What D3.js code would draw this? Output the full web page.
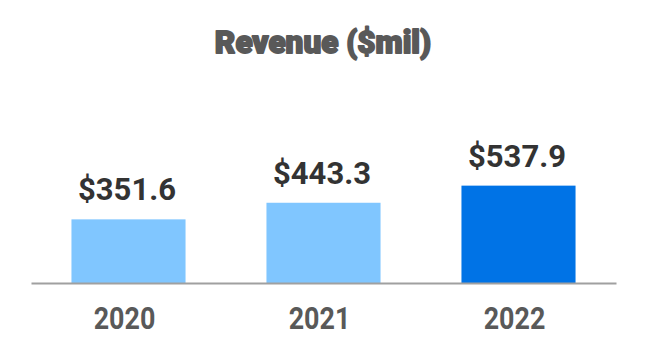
<!DOCTYPE html>
<html><head><meta charset="utf-8">
<script src="https://cdn.jsdelivr.net/npm/d3@7"></script>
<style>body{margin:0;background:#fff}svg{display:block}</style>
</head><body>
<script>
const categories = ["2020", "2021", "2022"];
const revenue = [351.6, 443.3, 537.9];
const valueLabels = ["$351.6", "$443.3", "$537.9"];
const barColors = ["#80c6ff", "#80c6ff", "#0073e6"];
const title = "Revenue ($mil)";

const W = 646, H = 360;
const svg = d3.select("body").append("svg").attr("width", W).attr("height", H);

const x = d3.scaleBand().domain(categories).range([31, 616]).paddingInner(0.415).paddingOuter(0.2075);
const y = d3.scaleLinear().domain([0, 600]).range([283, 283 - 600 * 0.181]);

svg.append("text").attr("x", 323).attr("y", 53).attr("text-anchor", "middle")
  .style("font-family", "Roboto").style("font-weight", 900).style("font-size", "31.5px")
  .attr("fill", "#595959").attr("stroke", "#595959").attr("stroke-width", 1.8)
  .attr("stroke-linejoin", "round").text(title);

svg.selectAll("rect.bar").data(categories).enter().append("rect").attr("class", "bar")
  .attr("x", d => x(d)).attr("width", x.bandwidth())
  .attr("y", (d, i) => y(revenue[i])).attr("height", (d, i) => y(0) - y(revenue[i]))
  .attr("fill", (d, i) => barColors[i]);

svg.selectAll("text.val").data(categories).enter().append("text").attr("class", "val")
  .attr("x", d => x(d) + x.bandwidth() / 2 - 1.5)
  .attr("y", (d, i) => y(revenue[i]) - 19)
  .attr("text-anchor", "middle")
  .style("font-family", "Roboto").style("font-weight", 700).style("font-size", "31px")
  .attr("fill", "#333333").text((d, i) => valueLabels[i]);

const axis = svg.append("g").attr("transform", `translate(0,${y(0)})`)
  .call(d3.axisBottom(x).tickSize(0).tickPadding(0));
axis.select(".domain").attr("stroke", "#a0a0a0").attr("stroke-width", 2);
axis.selectAll(".tick text").attr("y", 0).attr("dy", 0)
  .attr("transform", "translate(-4,46) scale(0.84,1)")
  .style("font-family", "Roboto").style("font-weight", 700).style("font-size", "32px")
  .attr("fill", "#595959");
</script>
</body></html>
